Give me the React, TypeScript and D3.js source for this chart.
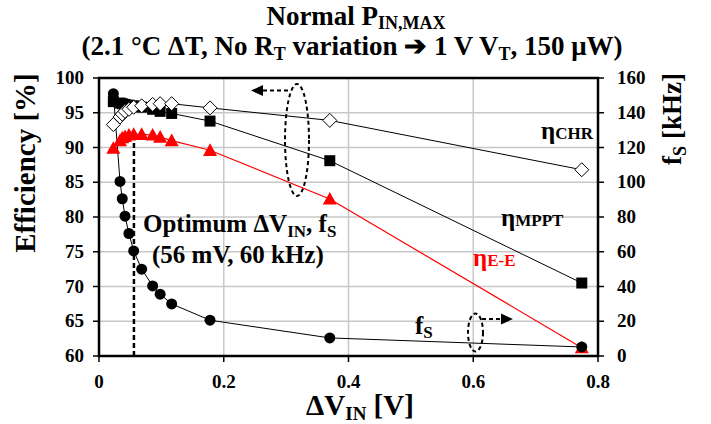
import React from "react";
import * as d3 from "d3";

// Input voltage step ΔV_IN [V] for each operating point
const dVin = [0.023, 0.0337, 0.0373, 0.0417, 0.048, 0.0556, 0.0684, 0.086, 0.098, 0.1165, 0.178, 0.37, 0.774];
// Efficiencies [%]
const etaMPPT = [96.6, 96.4, 96.3, 96.2, 96.1, 96.0, 95.8, 95.5, 95.2, 94.9, 93.8, 88.1, 70.5];
const etaCHR = [93.3, 94.4, 94.8, 95.2, 95.5, 95.8, 96.0, 96.2, 96.3, 96.3, 95.7, 93.9, 86.8];
const etaEE = [89.9, 91.0, 91.4, 91.6, 91.8, 91.9, 91.9, 91.8, 91.5, 91.0, 89.6, 82.6, 61.2];
// Switching frequency f_S [kHz]
const fsV = [0.023, 0.0337, 0.0373, 0.0417, 0.048, 0.0556, 0.0684, 0.086, 0.098, 0.1165, 0.178, 0.37, 0.774];
const fsKHz = [151, 100.5, 90.5, 80.5, 70.5, 60.5, 50, 40.3, 35.6, 30, 20.6, 10.4, 5.2];

const xTicks = [0, 0.2, 0.4, 0.6, 0.8];
const xTickLabels = ["0", "0.2", "0.4", "0.6", "0.8"];
const effTicks = [60, 65, 70, 75, 80, 85, 90, 95, 100];
const fsTicks = [0, 20, 40, 60, 80, 100, 120, 140, 160];
const optimumV = 0.056;

const L = 99, R = 598, T = 78, B = 356;
const FONT = "Liberation Serif, Tinos, DejaVu Serif, serif";

export default function App() {
  const x = d3.scaleLinear().domain([0, 0.8]).range([L, R]);
  const yE = d3.scaleLinear().domain([60, 100]).range([B, T]);
  const yF = d3.scaleLinear().domain([0, 160]).range([B, T]);

  const lineGen = (xs: number[], ys: number[], sc: (v: number) => number) =>
    d3.line<number>().x((_, i) => x(xs[i])).y((v) => sc(v))(ys) || "";

  const sq = 11, dm = 7, tri = 7;
  const tf = { fontFamily: FONT, fontWeight: 700 } as React.CSSProperties;

  return (
    <svg width={711} height={424} style={{ position: "absolute", left: 0, top: 0, background: "#fff" }}>
      <rect x={0} y={0} width={711} height={424} fill="#fff" />
      {/* Title */}
      <text x={356} y={25} textAnchor="middle" fontSize={27} style={tf}>
        Normal P<tspan fontSize={18} dy={4}>IN,MAX</tspan>
      </text>
      <text x={352} y={55} textAnchor="middle" fontSize={27} style={tf}>
        (2.1 °C ΔT, No R<tspan fontSize={18} dy={5}>T</tspan><tspan dy={-5}> variation </tspan>
        <tspan>➔</tspan><tspan> 1 V V</tspan>
        <tspan fontSize={18} dy={5}>T</tspan><tspan dy={-5}>, 150 μW)</tspan>
      </text>

      {/* Grid */}
      {effTicks.slice(1, -1).map((t) => (
        <line key={"gy" + t} x1={L} x2={R} y1={yE(t)} y2={yE(t)} stroke="#c8c8c8" strokeWidth={1.5} />
      ))}
      {xTicks.slice(1, -1).map((t) => (
        <line key={"gx" + t} x1={x(t)} x2={x(t)} y1={T} y2={B} stroke="#c8c8c8" strokeWidth={1.5} />
      ))}

      {/* Optimum marker */}
      <line x1={x(optimumV)} x2={x(optimumV)} y1={B} y2={yE(91.9)} stroke="#000" strokeWidth={2.5} strokeDasharray="5,3" />

      {/* Series lines */}
      <path d={lineGen(dVin, etaMPPT, yE)} fill="none" stroke="#000" strokeWidth={1} />
      <path d={lineGen(dVin, etaCHR, yE)} fill="none" stroke="#000" strokeWidth={1} />
      <path d={lineGen(dVin, etaEE, yE)} fill="none" stroke="#ff0000" strokeWidth={1.2} />
      <path d={lineGen(fsV, fsKHz, yF)} fill="none" stroke="#000" strokeWidth={1} />

      {/* Markers */}
      {dVin.map((v, i) => (
        <rect key={"m" + i} x={x(v) - sq / 2} y={yE(etaMPPT[i]) - sq / 2} width={sq} height={sq} fill="#000" />
      ))}
      {dVin.map((v, i) => {
        const cx = x(v), cy = yE(etaCHR[i]);
        return (
          <path key={"c" + i} d={`M${cx},${cy - dm}L${cx + dm},${cy}L${cx},${cy + dm}L${cx - dm},${cy}Z`} fill="#fff" stroke="#000" strokeWidth={1} />
        );
      })}
      {dVin.map((v, i) => {
        const cx = x(v), cy = yE(etaEE[i]);
        return (
          <path key={"e" + i} d={`M${cx},${cy - tri}L${cx + tri},${cy + tri * 0.8}L${cx - tri},${cy + tri * 0.8}Z`} fill="#ff0000" />
        );
      })}
      {fsV.map((v, i) => (
        <circle key={"f" + i} cx={x(v)} cy={yF(fsKHz[i])} r={5.5} fill="#000" />
      ))}

      {/* Axes frame */}
      <rect x={L} y={T} width={R - L} height={B - T} fill="none" stroke="#000" strokeWidth={2.5} />
      {effTicks.map((t) => (
        <g key={"ly" + t}>
          <line x1={L - 6} x2={L} y1={yE(t)} y2={yE(t)} stroke="#000" strokeWidth={1.5} />
          <text x={L - 15} y={yE(t) + 6} textAnchor="end" fontSize={19} style={tf}>{t}</text>
        </g>
      ))}
      {fsTicks.map((t) => (
        <g key={"ry" + t}>
          <line x1={R} x2={R + 6} y1={yF(t)} y2={yF(t)} stroke="#000" strokeWidth={1.5} />
          <text x={R + 19} y={yF(t) + 6} textAnchor="start" fontSize={19} style={tf}>{t}</text>
        </g>
      ))}
      {xTicks.map((t, i) => (
        <g key={"bx" + t}>
          <line x1={x(t)} x2={x(t)} y1={B} y2={B + 6} stroke="#000" strokeWidth={1.5} />
          <text x={x(t)} y={388} textAnchor="middle" fontSize={19} style={tf}>{xTickLabels[i]}</text>
        </g>
      ))}

      {/* Axis titles */}
      <text x={360} y={415} textAnchor="middle" fontSize={29} style={tf}>
        ΔV<tspan fontSize={19} dy={5}>IN</tspan><tspan dy={-5}> [V]</tspan>
      </text>
      <text transform="translate(35,163) rotate(-90)" textAnchor="middle" fontSize={29} style={tf}>
        Efficiency [%]
      </text>
      <text transform="translate(681,119) rotate(-90)" textAnchor="middle" fontSize={27} style={tf}>
        f<tspan fontSize={18} dy={5}>S</tspan><tspan dy={-5}> [kHz]</tspan>
      </text>

      {/* Series labels */}
      <text x={541} y={139} fontSize={25} style={tf}>
        η<tspan fontSize={17}>CHR</tspan>
      </text>
      <text x={501} y={226} fontSize={25} style={tf}>
        η<tspan fontSize={17}>MPPT</tspan>
      </text>
      <text x={473} y={266} fontSize={25} style={tf} fill="#ff0000">
        η<tspan fontSize={17}>E-E</tspan>
      </text>
      <text x={415} y={334} fontSize={25} style={tf}>
        f<tspan fontSize={17} dy={4}>S</tspan>
      </text>

      {/* Optimum annotation */}
      <text x={143} y={232} fontSize={25} style={tf}>
        Optimum ΔV<tspan fontSize={17} dy={5}>IN</tspan><tspan dy={-5}>, f</tspan>
        <tspan fontSize={17} dy={5}>S</tspan>
      </text>
      <text x={152} y={263} fontSize={25} style={tf}>(56 mV, 60 kHz)</text>

      {/* Left-axis callout for efficiency curves */}
      <ellipse cx={297} cy={140} rx={12} ry={56} fill="none" stroke="#000" strokeWidth={2} strokeDasharray="4,3" />
      <line x1={288} x2={262} y1={90.5} y2={90.5} stroke="#000" strokeWidth={2} strokeDasharray="4,3" />
      <path d="M251,90.5L263,85L263,96Z" fill="#000" />

      {/* Right-axis callout for f_S */}
      <ellipse cx={475.5} cy={332.5} rx={7.5} ry={19} fill="none" stroke="#000" strokeWidth={2} strokeDasharray="4,3" />
      <line x1={482} x2={502} y1={319} y2={319} stroke="#000" strokeWidth={2} strokeDasharray="4,3" />
      <path d="M513,319L501,313.5L501,324.5Z" fill="#000" />
    </svg>
  );
}
